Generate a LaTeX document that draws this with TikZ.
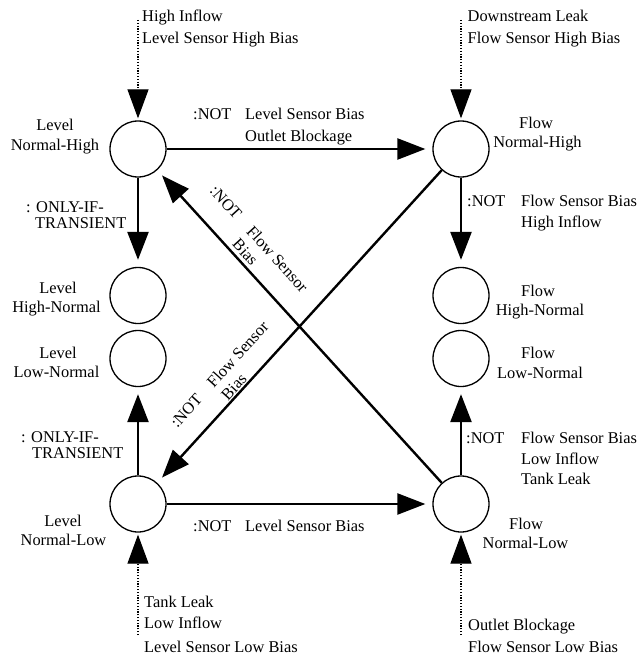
\documentclass[tikz,border=0pt]{standalone}
\usepackage{fontspec}
\setmainfont{Liberation Serif}
\usetikzlibrary{arrows.meta}
\tikzset{
  st/.style={circle, draw, line width=1.3pt, minimum size=56pt, inner sep=0pt},
  arr/.style={line width=2.4pt, -{Triangle[length=28pt,width=21pt]}, shorten >=7pt},
  darr/.style={line width=1.2pt, dash pattern=on 1.2pt off 1.6pt, -{Triangle[length=29pt,width=21pt]}, shorten >=2pt},
  lw/.style={inner sep=0pt, anchor=base west},
  lc/.style={inner sep=0pt, anchor=base},
}
\begin{document}
\begin{tikzpicture}[x=1pt,y=-1pt,every node/.style={font=\fontsize{16.4}{19}\selectfont}]
\path[use as bounding box] (0,0) rectangle (639,655);
% states
\node[st] (LNH) at (138,149) {};
\node[st] (FNH) at (461,149) {};
\node[st] (LHN) at (138,295.5) {};
\node[st] (FHN) at (461,295.5) {};
\node[st] (LLN) at (138,358.5) {};
\node[st] (FLN) at (461,358.5) {};
\node[st] (LNL) at (138,504) {};
\node[st] (FNL) at (461,504) {};
% free ends of dotted arrows
\coordinate (inLNH) at (138,20);
\coordinate (inFNH) at (461,20);
\coordinate (inLNL) at (138,635);
\coordinate (inFNL) at (461,635);
% connectors
\draw[arr] (LNH) -- (FNH);
\draw[arr] (LNH) -- (LHN);
\draw[arr] (FNH) -- (FHN);
\draw[arr] (LNL) -- (LLN);
\draw[arr] (FNL) -- (FLN);
\draw[arr] (LNL) -- (FNL);
\draw[arr] (FNL) -- (LNH);
\draw[arr] (FNH) -- (LNL);
\draw[darr] (inLNH) -- (LNH);
\draw[darr] (inFNH) -- (FNH);
\draw[darr] (inLNL) -- (LNL);
\draw[darr] (inFNL) -- (FNL);
% top texts
\node[lw] (t1a) at (142,22) {High Inflow};
\node[lw] (t1b) at (142,44) {Level Sensor High Bias};
\node[lw] (t2a) at (467.5,22) {Downstream Leak};
\node[lw] (t2b) at (467.5,44) {Flow Sensor High Bias};
% state labels
\node[lc] (nLNH1) at (55,131) {Level};
\node[lc] (nLNH2) at (55,150) {Normal-High};
\node[lc] (nFNH1) at (536,129) {Flow};
\node[lc] (nFNH2) at (537.5,148) {Normal-High};
\node[lc] (nLHN1) at (58,293) {Level};
\node[lc] (nLHN2) at (56.5,312) {High-Normal};
\node[lc] (nLLN1) at (58,358) {Level};
\node[lc] (nLLN2) at (56.5,377) {Low-Normal};
\node[lc] (nFHN1) at (538,296) {Flow};
\node[lc] (nFHN2) at (540,315) {High-Normal};
\node[lc] (nFLN1) at (538,358) {Flow};
\node[lc] (nFLN2) at (540,378) {Low-Normal};
\node[lc] (nLNL1) at (63,526) {Level};
\node[lc] (nLNL2) at (63.5,545) {Normal-Low};
\node[lc] (nFNL1) at (526,529) {Flow};
\node[lc] (nFNL2) at (525.5,548) {Normal-Low};
% top horizontal label
\node[lw] (h1n) at (193,120) {:NOT};
\node[lw] (h1a) at (245,120) {Level Sensor Bias};
\node[lw] (h1b) at (245,142) {Outlet Blockage};
% bottom horizontal label
\node[lw] (h2n) at (193,531) {:NOT};
\node[lw] (h2a) at (245,531) {Level Sensor Bias};
% left transient labels
\node[lw] (o1a) at (26,212) {: ONLY-IF-};
\node[lw] (o1b) at (35,228) {TRANSIENT};
\node[lw] (o2a) at (21,442) {: ONLY-IF-};
\node[lw] (o2b) at (32,458) {TRANSIENT};
% right vertical labels
\node[lw] (r1n) at (467,206) {:NOT};
\node[lw] (r1a) at (521,206) {Flow Sensor Bias};
\node[lw] (r1b) at (521,227) {High Inflow};
\node[lw] (r2n) at (466,443) {:NOT};
\node[lw] (r2a) at (521,443) {Flow Sensor Bias};
\node[lw] (r2b) at (521,464) {Low Inflow};
\node[lw] (r2c) at (521,484) {Tank Leak};
% diagonal labels
\node[lw,rotate=-47.7] (dAn) at (209,191.8) {:NOT};
\node[lw,rotate=-47.7] (dAa) at (245.5,232) {Flow Sensor};
\node[lw,rotate=-47.7] (dAb) at (231.4,244.8) {Bias};
\node[lw,rotate=47.7] (dBn) at (177.3,429) {:NOT};
\node[lw,rotate=47.7] (dBa) at (213.8,388.8) {Flow Sensor};
\node[lw,rotate=47.7] (dBb) at (227.9,401.6) {Bias};
% bottom texts
\node[lw] (b1a) at (144,607) {Tank Leak};
\node[lw] (b1b) at (144,628) {Low Inflow};
\node[lw] (b1c) at (144,652) {Level Sensor Low Bias};
\node[lw] (b2a) at (468,630) {Outlet Blockage};
\node[lw] (b2b) at (468,652) {Flow Sensor Low Bias};
\end{tikzpicture}
\end{document}
